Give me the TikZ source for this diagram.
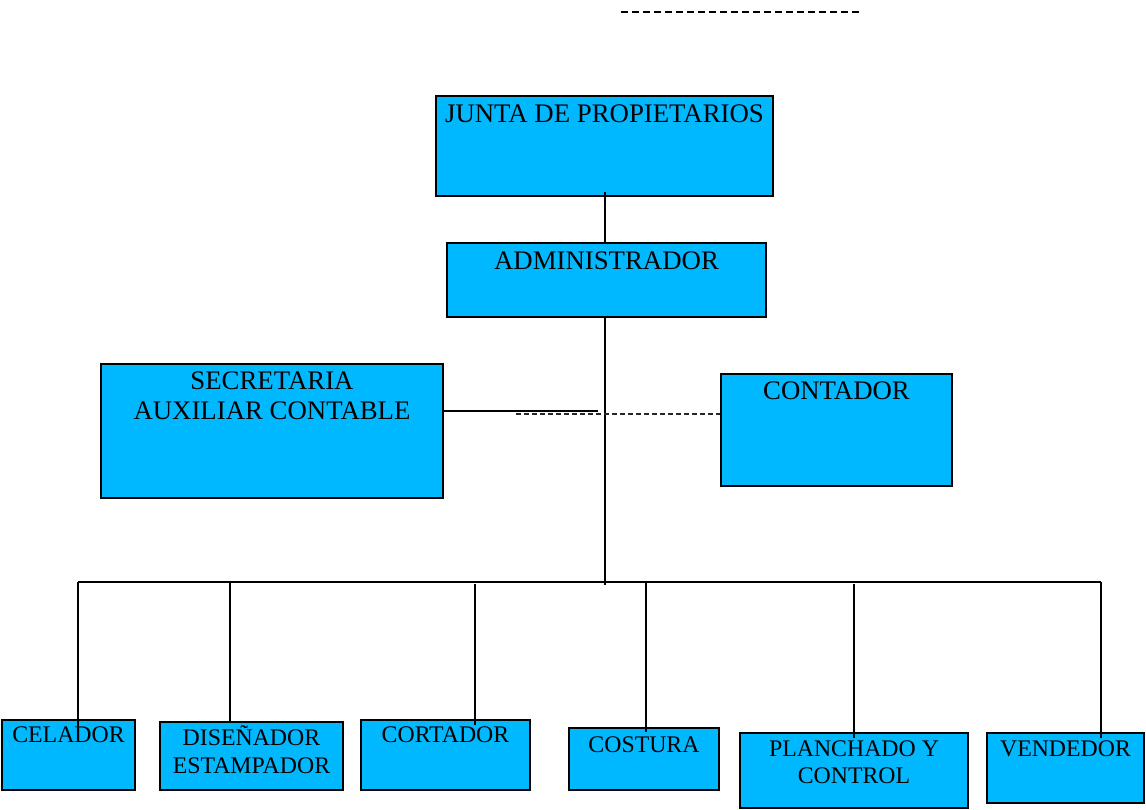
\documentclass[tikz,border=0pt]{standalone}
\usepackage{fontspec}
\setmainfont{Liberation Serif}
\usetikzlibrary{calc}
\definecolor{boxblue}{RGB}{0,184,255}
\begin{document}
\begin{tikzpicture}[x=1pt,y=-1pt,
  box/.style={draw=black, line width=2pt, fill=boxblue, inner sep=0pt},
  big/.style={inner sep=0pt, anchor=base, font=\fontsize{26.8}{30}\selectfont},
  small/.style={inner sep=0pt, anchor=base, font=\fontsize{23.8}{28}\selectfont},
  conn/.style={draw=black, line width=1.9pt},
  topdash/.style={draw=black, line width=2pt, dash pattern=on 7pt off 4pt},
  middash/.style={draw=black!85, line width=1.8pt, dash pattern=on 5pt off 3pt}]
\useasboundingbox (0,0) rectangle (1146,809);
\fill[white] (0,0) rectangle (1146,809);

% top dashed line
\coordinate (tdl) at (621,12);
\coordinate (tdr) at (861,12);
\draw[topdash] (tdl) -- (tdr);

% boxes
\node[box, minimum width=337pt, minimum height=100pt] (jp) at (604.5,146) {};
\node[box, minimum width=319pt, minimum height=74pt] (ad) at (606.5,280) {};
\node[box, minimum width=342pt, minimum height=134pt] (se) at (272,431) {};
\node[box, minimum width=231pt, minimum height=112pt] (co) at (836.5,430) {};
\node[box, minimum width=133pt, minimum height=70pt] (ce) at (68.5,755) {};
\node[box, minimum width=183pt, minimum height=68pt] (di) at (251.5,756) {};
\node[box, minimum width=169pt, minimum height=70pt] (cr) at (445.5,755) {};
\node[box, minimum width=150pt, minimum height=62pt] (cs) at (644,759) {};
\node[box, minimum width=228pt, minimum height=75pt] (pl) at (854,770.5) {};
\node[box, minimum width=157pt, minimum height=70pt] (ve) at (1065.5,768) {};

% texts
\node[big] (tjp) at ($(jp.north)+(0,27)$) {JUNTA DE PROPIETARIOS};
\node[big] (tad) at ($(ad.north)+(0,27)$) {ADMINISTRADOR};
\node[big] (tse1) at ($(se.north)+(0,26)$) {SECRETARIA};
\node[big] (tse2) at ($(se.north)+(0,56)$) {AUXILIAR CONTABLE};
\node[big] (tco) at ($(co.north)+(0,26)$) {CONTADOR};
\node[small] (tce) at ($(ce.north)+(0,23)$) {CELADOR};
\node[small] (tdi1) at ($(di.north)+(0,24)$) {DISEÑADOR};
\node[small] (tdi2) at ($(di.north)+(0,52)$) {ESTAMPADOR};
\node[small] (tcr) at ($(cr.north)+(0,23)$) {CORTADOR};
\node[small] (tcs) at ($(cs.north)+(0,25)$) {COSTURA};
\node[small] (tpl1) at ($(pl.north)+(0,24)$) {PLANCHADO Y};
\node[small] (tpl2) at ($(pl.north)+(0,51)$) {CONTROL};
\node[small] (tve) at ($(ve.north)+(0,24)$) {VENDEDOR};

% connectors
\coordinate (jps) at (605,192);
\coordinate (trunk) at (605,585);
\coordinate (bl) at (78,582);
\coordinate (br) at (1101,582);
\coordinate (sl) at (598,411);
\coordinate (dl) at (516,414);

\draw[conn] (jps) -- (jps |- ad.north);
\draw[conn] (jps |- ad.south) -- (trunk);
\draw[conn] (se.east |- sl) -- (sl);
\draw[middash] (dl) -- (co.west |- dl);
\draw[conn] (bl) -- (br);
\draw[conn] (bl) -- (78,737);
\draw[conn] (230,582) -- (di.north -| 230,0);
\draw[conn] (475,584) -- (475,725);
\draw[conn] (646,582) -- (646,732);
\draw[conn] (854,584) -- (854,738);
\draw[conn] (br) -- (1101,738);
\end{tikzpicture}
\end{document}
